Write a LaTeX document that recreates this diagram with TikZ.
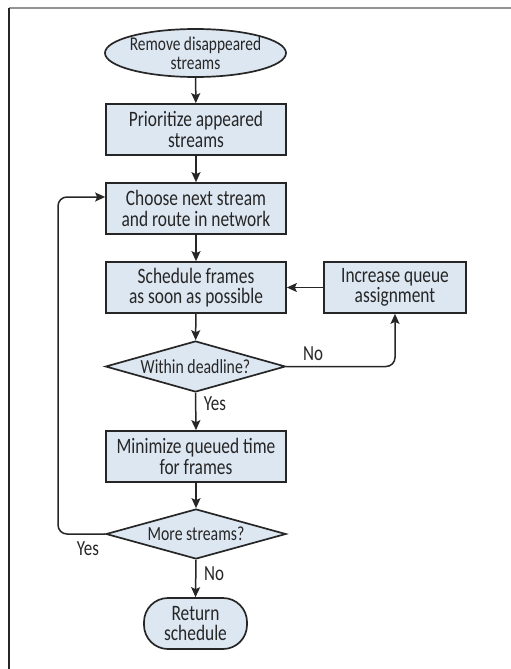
\documentclass[tikz,border=0pt]{standalone}
\usepackage{fontspec}
\setmainfont[FakeStretch=0.79]{Carlito}
\usetikzlibrary{shapes.geometric,arrows.meta}
\definecolor{boxfill}{HTML}{DDE7F2}
\definecolor{ink}{HTML}{262626}
\begin{document}
\begin{tikzpicture}[x=1pt,y=-1pt,
  every node/.style={text=ink},
  base/.style={draw=ink,line width=1.7pt,fill=boxfill,inner sep=0pt,align=center,
    font=\fontsize{22}{20.5}\selectfont},
  procbox/.style={base,rectangle,minimum width=180pt,minimum height=51pt},
  termell/.style={base,ellipse,inner xsep=-14pt,inner ysep=-10pt,minimum width=181pt,minimum height=48pt,
    font=\fontsize{19.5}{19}\selectfont},
  termround/.style={base,rectangle,rounded corners=24pt,minimum width=103pt,minimum height=51pt},
  decide/.style={base,diamond,aspect=3.5,minimum width=180pt,minimum height=51pt,
    font=\fontsize{20}{18}\selectfont},
  flow/.style={draw=ink,line width=1.5pt,-{Stealth[length=10pt,width=9pt,inset=2pt]}},
  lbl/.style={font=\fontsize{21.5}{20}\selectfont,inner sep=0pt}]
\useasboundingbox (0,0) rectangle (511,669);
\draw[line width=2pt,draw=gray!85] (9,8) -- (511,8);
\draw[line width=1.5pt,draw=ink] (9,8) -- (9,669);

\node[termell] (start) at (195.5,53) {Remove disappeared\\streams};
\node[procbox] (prio) at (196,129.5) {Prioritize appeared\\streams};
\node[procbox] (choose) at (196,208.5) {Choose next stream\\and route in network};
\node[procbox] (sched) at (196,287.5) {Schedule frames\\as soon as possible};
\node[procbox,minimum width=142pt] (inc) at (395,287.5) {Increase queue\\assignment};
\node[decide] (dl) at (195.5,366.5) {Within deadline?};
\node[procbox] (mini) at (196,456.5) {Minimize queued time\\for frames};
\node[decide,minimum height=50pt] (more) at (196,534) {More streams?};
\node[termround] (ret) at (195.5,623.5) {Return\\schedule};

\coordinate (loopin) at ([yshift=11.5pt]choose.west);
\coordinate (lx) at (58,400);

\draw[flow] (start) -- (prio);
\draw[flow] (prio) -- (choose);
\draw[flow] (choose) -- (sched);
\draw[flow] (inc.west) -- (sched.east);
\draw[flow] (sched) -- (dl);
\draw[flow,rounded corners=9pt] (dl.east) -| (inc.south);
\draw[flow] (dl.south) -- (mini.north);
\draw[flow] (mini) -- (more);
\draw[flow,rounded corners=9pt] (more.west) -| (lx) |- (loopin);
\draw[flow] (more.south) -- (ret.north);

\node[lbl] (noA) at (313,354) {No};
\node[lbl] (yesA) at (215,404) {Yes};
\node[lbl] (yesB) at (88,549) {Yes};
\node[lbl] (noB) at (214,574) {No};
\end{tikzpicture}
\end{document}
